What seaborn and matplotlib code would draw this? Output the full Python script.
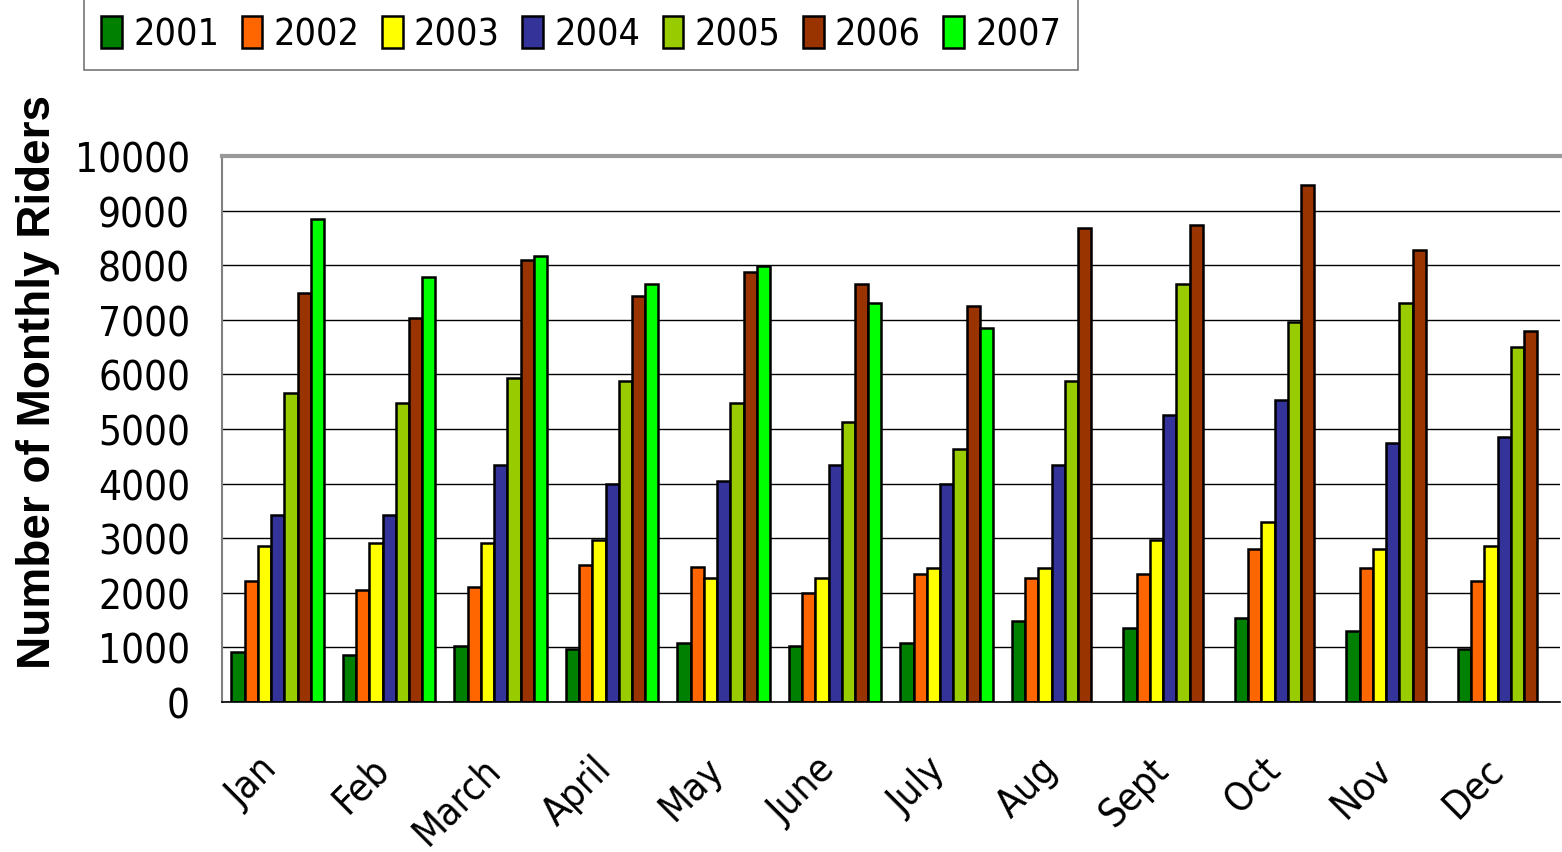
import pandas as pd
import numpy as np
import matplotlib
matplotlib.use('Agg')
import matplotlib.pyplot as plt
import matplotlib.transforms as mtransforms
import seaborn as sns

months = ['Jan', 'Feb', 'March', 'April', 'May', 'June', 'July', 'Aug', 'Sept', 'Oct', 'Nov', 'Dec']
years = ['2001', '2002', '2003', '2004', '2005', '2006', '2007']

riders_2001 = [915, 865, 1025, 975, 1080, 1025, 1080, 1485, 1365, 1535, 1305, 970]
riders_2002 = [2220, 2060, 2110, 2515, 2465, 1995, 2340, 2280, 2340, 2800, 2450, 2220]
riders_2003 = [2860, 2910, 2910, 2975, 2280, 2280, 2450, 2450, 2960, 3300, 2800, 2860]
riders_2004 = [3430, 3430, 4345, 3995, 4050, 4345, 3995, 4345, 5255, 5535, 4740, 4855]
riders_2005 = [5655, 5480, 5935, 5875, 5480, 5130, 4630, 5875, 7655, 6960, 7300, 6510]
riders_2006 = [7485, 7025, 8105, 7430, 7875, 7655, 7250, 8685, 8740, 9475, 8280, 6790]
riders_2007 = [8855, 7780, 8165, 7655, 7995, 7300, 6850, np.nan, np.nan, np.nan, np.nan, np.nan]

colors = ['#008000', '#FF6600', '#FFFF00', '#333399', '#99CC00', '#993300', '#00FF00']

all_series = [riders_2001, riders_2002, riders_2003, riders_2004, riders_2005, riders_2006, riders_2007]
rows = []
for year, vals in zip(years, all_series):
    for m, v in zip(months, vals):
        rows.append({'month': m, 'year': year, 'riders': v})
df = pd.DataFrame(rows)

sns.set_style('white')
plt.rcParams['font.family'] = ['DejaVu Sans']
plt.rcParams['font.stretch'] = 'condensed'
plt.rcParams['text.color'] = 'black'
plt.rcParams['axes.labelcolor'] = 'black'
plt.rcParams['xtick.color'] = 'black'
plt.rcParams['ytick.color'] = 'black'

fig = plt.figure(figsize=(15.62, 8.53), dpi=100)
ax = fig.add_axes([0.1421, 0.1758, 0.8566, 0.6401])

sns.barplot(data=df, x='month', y='riders', hue='year', order=months, hue_order=years,
            palette=colors, width=0.83, edgecolor='black', linewidth=1.8, saturation=1,
            ax=ax)

ax.set_ylim(0, 10000)
ax.set_xlim(-0.5, 11.5)
ax.set_yticks(range(0, 10001, 1000))
ax.yaxis.grid(True, color='black', linewidth=1.0)
ax.set_axisbelow(True)
ax.tick_params(axis='y', labelsize=29, length=8, color='#808080', direction='out', pad=15)
ax.tick_params(axis='x', which='major', labelsize=28, length=0, pad=34)
ax.set_xticks(np.arange(-0.5, 12, 1), minor=True)
ax.tick_params(axis='x', which='minor', length=9, color='#808080', width=1.2, direction='out')
shift = mtransforms.ScaledTranslation(-0.2, 0, fig.dpi_scale_trans)
for lab in ax.get_xticklabels():
    lab.set_rotation(45)
    lab.set_ha('right')
    lab.set_va('top')
    lab.set_rotation_mode('anchor')
    lab.set_transform(lab.get_transform() + shift)

ax.spines['right'].set_visible(False)
ax.spines['top'].set_color('#999999')
ax.spines['top'].set_linewidth(3)
ax.spines['left'].set_color('#808080')
ax.spines['left'].set_linewidth(1.5)
ax.spines['bottom'].set_color('black')
ax.spines['bottom'].set_linewidth(1.2)

ax.set_xlabel('')
ax.set_ylabel('Number of Monthly Riders', fontsize=33, fontweight='bold', color='black',
              family=['Liberation Sans', 'DejaVu Sans'], fontstretch='normal')
ax.yaxis.set_label_coords(-0.121, 0.588)

handles, labels = ax.get_legend_handles_labels()
ax.get_legend().remove()
leg = fig.legend(handles, labels, ncol=7, loc='upper left', bbox_to_anchor=(0.054, 1.0),
                 fontsize=27, frameon=True, fancybox=False, handlelength=0.55,
                 handleheight=0.95, handletextpad=0.3, columnspacing=0.6,
                 borderpad=0.45, borderaxespad=0)
leg.get_frame().set_edgecolor('#555555')
leg.get_frame().set_linewidth(1.2)

fig.savefig('out.png', dpi=100)
